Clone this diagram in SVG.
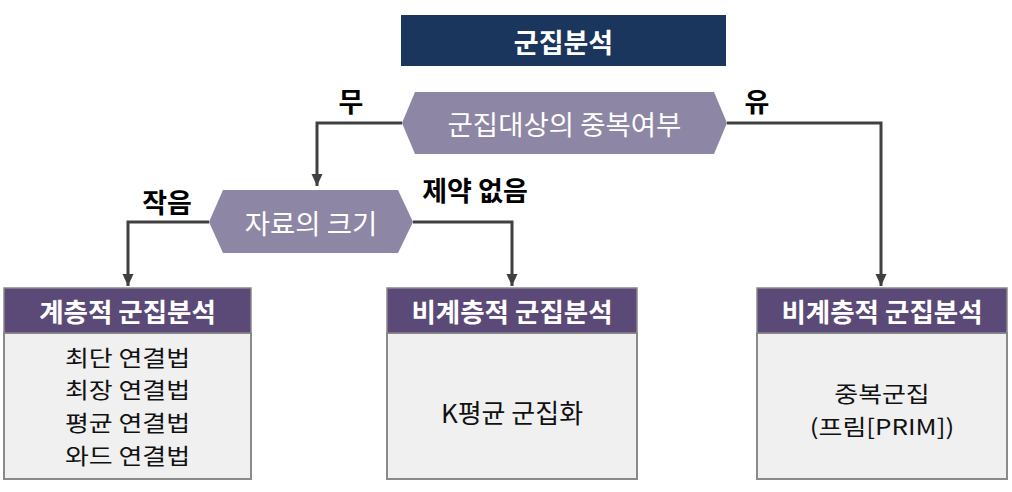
<svg xmlns="http://www.w3.org/2000/svg" width="1012" height="492" viewBox="0 0 1012 492">
<defs>
<marker id="ah" markerWidth="12" markerHeight="12" refX="12" refY="6" orient="auto" markerUnits="userSpaceOnUse">
<path d="M0,0.5 L12,6 L0,11.5 Z" fill="#404040"/>
</marker>
<style>
text{font-family:"Noto Sans CJK KR","Noto Sans",sans-serif;text-anchor:middle;dominant-baseline:central}
.hex{fill:#8e86a5}
.hext{fill:#ffffff;font-size:27.5px}
.hdr{fill:#5b4a78;stroke:#888;stroke-width:1.5}
.hdrt{fill:#fff;font-size:26.5px;font-weight:bold}
.body{fill:#f0f0f0;stroke:#8a8a8a;stroke-width:2}
.bt{fill:#111;font-size:26px}
.bts{fill:#111;font-size:22px}
.lbl{fill:#000;font-size:27px;font-weight:bold}
.conn{fill:none;stroke:#404040;stroke-width:3}
</style>
</defs>
<g id="title">
<rect x="401" y="15" width="325" height="51" fill="#1b365d"/>
<text x="563.5" y="41" fill="#fff" font-size="27" font-weight="bold">군집분석</text>
</g>
<g id="connectors">
<path class="conn" d="M402,123 H317 V186" marker-end="url(#ah)"/>
<path class="conn" d="M727,123 H881 V286" marker-end="url(#ah)"/>
<path class="conn" d="M209,222 H128 V286" marker-end="url(#ah)"/>
<path class="conn" d="M413,222 H512 V286" marker-end="url(#ah)"/>
<text class="lbl" x="351" y="100">무</text>
<text class="lbl" x="757" y="100">유</text>
<text class="lbl" x="167" y="201">작음</text>
<text class="lbl" x="475" y="189">제약 없음</text>
</g>
<g id="decision1">
<polygon class="hex" points="402,123 415,92 714,92 727,123 714,154 415,154"/>
<text class="hext" x="564.5" y="123">군집대상의 중복여부</text>
</g>
<g id="decision2">
<polygon class="hex" points="209,222 223,190 398,190 413,222 398,253 223,253"/>
<text class="hext" x="311" y="222">자료의 크기</text>
</g>
<g id="box1">
<rect class="body" x="4" y="333" width="247" height="146"/>
<rect class="hdr" x="4" y="288" width="247" height="45"/>
<text class="hdrt" x="127.5" y="310">계층적 군집분석</text>
<text class="bts" transform="translate(127.5 356) scale(1.18 1)">최단 연결법</text>
<text class="bts" transform="translate(127.5 388.7) scale(1.18 1)">최장 연결법</text>
<text class="bts" transform="translate(127.5 421.3) scale(1.18 1)">평균 연결법</text>
<text class="bts" transform="translate(127.5 454) scale(1.18 1)">와드 연결법</text>
</g>
<g id="box2">
<rect class="body" x="387" y="333" width="250" height="146"/>
<rect class="hdr" x="387" y="288" width="250" height="45"/>
<text class="hdrt" x="512" y="310">비계층적 군집분석</text>
<text class="bt" x="512" y="411">K평균 군집화</text>
</g>
<g id="box3">
<rect class="body" x="757" y="333" width="250" height="146"/>
<rect class="hdr" x="757" y="288" width="250" height="45"/>
<text class="hdrt" x="882" y="310">비계층적 군집분석</text>
<text class="bts" transform="translate(882 392) scale(1.18 1)">중복군집</text>
<text class="bts" transform="translate(882 425) scale(1.18 1)">(프림[PRIM])</text>
</g>
</svg>
